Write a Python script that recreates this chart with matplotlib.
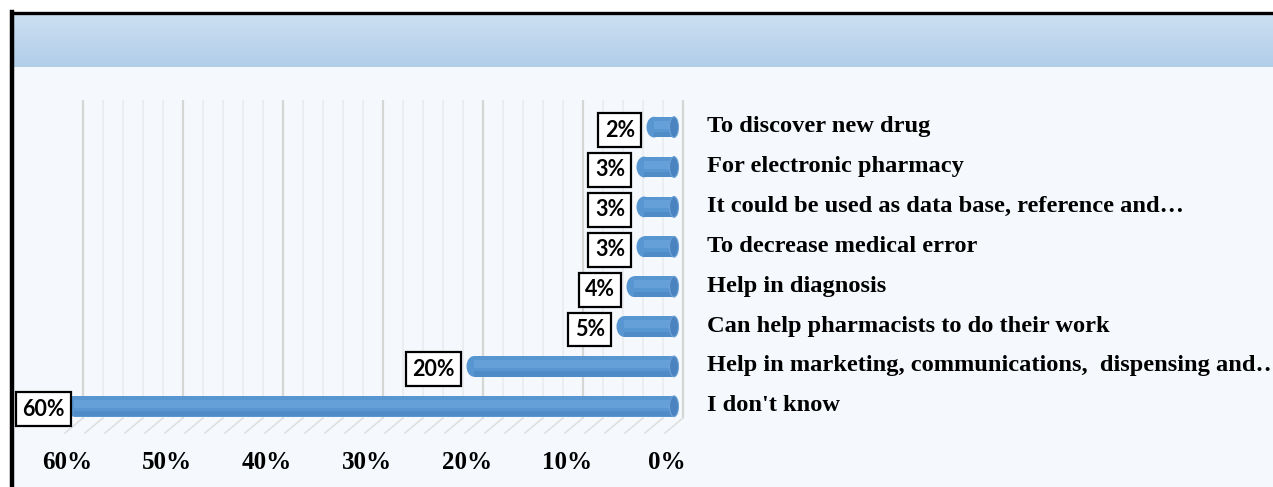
import numpy as np
import matplotlib.pyplot as plt
from matplotlib.transforms import ScaledTranslation, blended_transform_factory
from matplotlib.patches import Ellipse, Rectangle
from matplotlib.lines import Line2D
from matplotlib.colors import LinearSegmentedColormap

categories = [
    "To discover new drug",
    "For electronic pharmacy",
    "It could be used as data base, reference and\u2026",
    "To decrease medical error",
    "Help in diagnosis",
    "Can help pharmacists to do their work",
    "Help in marketing, communications,  dispensing and\u2026",
    "I don't know",
]
values = [2, 3, 3, 3, 4, 5, 20, 60]
xticks = [60, 50, 40, 30, 20, 10, 0]

W, H = 1273, 487
fig = plt.figure(figsize=(W / 100, H / 100), dpi=100)
fig.patch.set_facecolor("white")
dpi_tr = fig.dpi_scale_trans

# pale chart panel
fig.add_artist(Rectangle((14 / W, 0), 1, 1 - 14 / H, transform=fig.transFigure,
                         fc="#f5f9fd", ec="none", zorder=0))

# header band with gradient
hax = fig.add_axes([14 / W, 1 - 67 / H, 1 - 14 / W, 52 / H])
grad = np.linspace(0, 1, 60).reshape(-1, 1)
cmap = LinearSegmentedColormap.from_list("hdr", ["#cbdff1", "#b1cee9"])
hax.imshow(grad, aspect="auto", cmap=cmap, extent=[0, 1, 0, 1])
hax.axis("off")

# black frame (left and top)
fig.add_artist(Line2D([12 / W, 12 / W], [0, 1 - 12 / H], transform=fig.transFigure,
                      color="black", lw=3.2, zorder=10))
fig.add_artist(Line2D([12 / W, 1], [1 - 13 / H, 1 - 13 / H], transform=fig.transFigure,
                      color="black", lw=2.4, zorder=10))

# main axes
ax = fig.add_axes([67 / W, 1 - 433 / H, 600 / W, 333 / H])
ax.set_xlim(60, 0)
ax.set_ylim(7.67, -0.68)
ax.patch.set_alpha(0)
for s in ax.spines.values():
    s.set_visible(False)

# back wall grid + floor lines (3D look)
wall = blended_transform_factory(ax.transData, ax.transAxes) + ScaledTranslation(16 / 100, 0, dpi_tr)
floor_y = 15 / 333
for g in np.arange(0, 61, 2):
    major = g % 10 == 0
    ax.plot([g, g], [floor_y, 1], transform=wall, color="#d6d6d6" if major else "#e9ebee",
            lw=1.6 if major else 1.1, zorder=1, solid_capstyle="butt", clip_on=False)
    ax.plot([g, g + 1.8], [floor_y, 0], transform=wall, color="#dedede", lw=1.1, zorder=1, clip_on=False)

# bars (cylinder style)
bar_tr = ax.transData + ScaledTranslation(7 / 100, 0, dpi_tr)
rows = np.arange(len(values))
base = "#5896d2"
ax.barh(rows, values, height=0.52, color=base, lw=0, transform=bar_tr, zorder=3, clip_on=False)
ax.barh(rows - 0.06, values, height=0.2, color="#78aee2", alpha=0.45, lw=0, transform=bar_tr,
        zorder=4, clip_on=False)
ax.barh(rows + 0.19, values, height=0.13, color="#3c74b0", alpha=0.3, lw=0, transform=bar_tr,
        zorder=4, clip_on=False)
for i, v in enumerate(values):
    ax.add_patch(Ellipse((v, i), 1.5, 0.52, transform=bar_tr, fc=base, ec="none", zorder=3, clip_on=False))
    ax.add_patch(Ellipse((0, i), 0.9, 0.52, transform=bar_tr, fc="#4a83bf", ec="#6fa3d6", lw=0.8,
                         zorder=5, clip_on=False))

# data labels
anns = []
for i, v in enumerate(values):
    a = ax.annotate(f"{v}%", xy=(v, i), xycoords=bar_tr, xytext=(-19, -3), textcoords="offset pixels",
                    ha="right", va="center", fontsize=15.5, fontweight="bold", family="Lato",
                    bbox=dict(boxstyle="square,pad=0.3", fc="white", ec="black", lw=1.6), zorder=6)
    anns.append(a)

# axes ticks
ax.set_xticks(xticks)
ax.set_xticklabels([f"{t}%" for t in xticks], fontsize=18, fontweight="bold", family="Liberation Serif")
ax.set_yticks(rows)
ax.set_yticklabels(categories, fontsize=17.6, fontweight="bold", family="Liberation Serif")
ax.yaxis.tick_right()
ax.tick_params(axis="y", length=0, pad=28.8)
ax.tick_params(axis="x", length=0, pad=13)
for t in ax.yaxis.get_major_ticks():
    t.label2.set_transform(t.label2.get_transform() + ScaledTranslation(0, 3 / 100, dpi_tr))

# keep the labels inside the frame
fig.canvas.draw()
r = fig.canvas.get_renderer()
for a in anns:
    bb = a.get_bbox_patch().get_window_extent(r)
    if bb.x0 < 16:
        x, y = a.xyann
        a.xyann = (x + 16 - bb.x0, y)

fig.savefig("out.png", dpi=100)
